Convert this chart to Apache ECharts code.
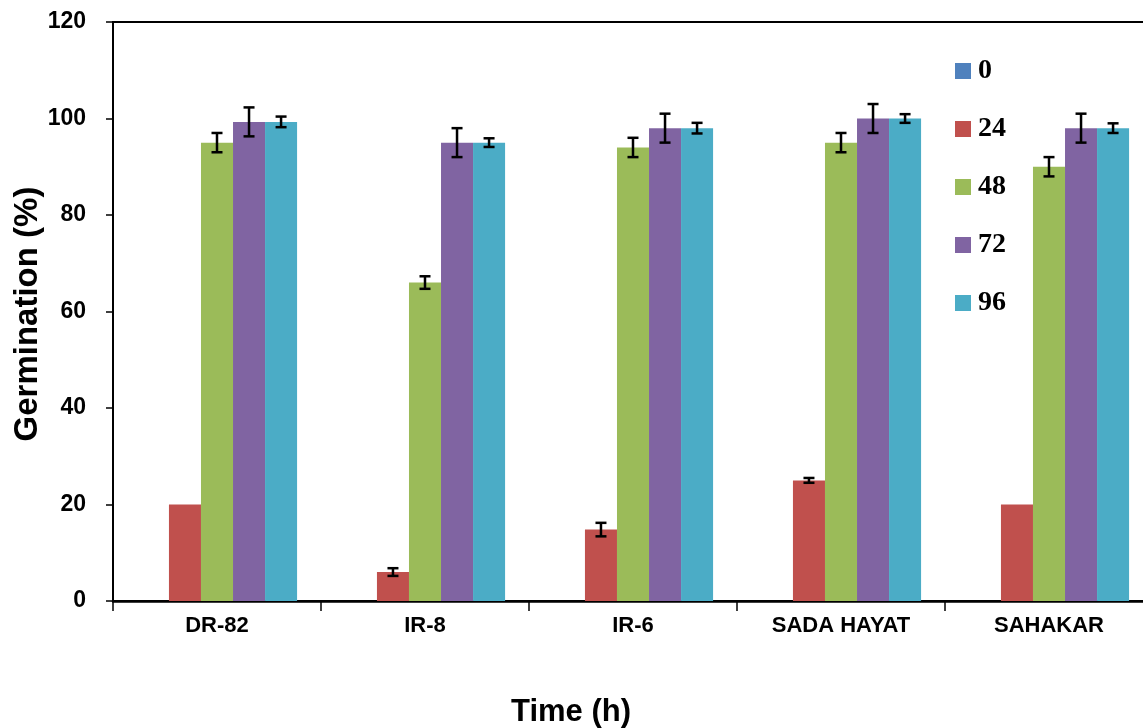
<!DOCTYPE html>
<html>
<head>
<meta charset="utf-8">
<script src="https://cdn.jsdelivr.net/npm/echarts@6/dist/echarts.min.js"></script>
<style>
  html, body { margin: 0; padding: 0; background: #fff; }
  #chart { width: 1143px; height: 728px; }
</style>
</head>
<body>
<div id="chart"></div>
<script>
// Rice cultivars on the category axis
const categories = ['DR-82', 'IR-8', 'IR-6', 'SADA HAYAT', 'SAHAKAR'];
// Germination time points (h), one series each
const seriesNames = ['0', '24', '48', '72', '96'];
// Mean germination (%) per cultivar at each time point
const values0 = [0, 0, 0, 0, 0];
const values24 = [20, 6, 14.8, 25, 20];
const values48 = [95, 66, 94, 95, 90];
const values72 = [99.3, 95, 98, 100, 98];
const values96 = [99.3, 95, 98, 100, 98];
// Standard error per cultivar (null = no error bar drawn)
const err0 = [null, null, null, null, null];
const err24 = [null, 0.8, 1.4, 0.5, null];
const err48 = [2, 1.3, 2, 2, 2];
const err72 = [3, 3, 3, 3, 3];
const err96 = [1.1, 0.9, 1.1, 0.9, 1];
const yTicks = [0, 20, 40, 60, 80, 100, 120];

const colors = ['#4F81BD', '#C0504D', '#9BBB59', '#8064A2', '#4BACC6'];
const allValues = [values0, values24, values48, values72, values96];
const allErrors = [err0, err24, err48, err72, err96];

const BAR_FRAC = 0.154; // bar width as a share of the category band

const chart = echarts.init(document.getElementById('chart'), null, { renderer: 'canvas' });

const series = [];
allValues.forEach((vals, i) => {
  series.push({
    name: seriesNames[i],
    type: 'bar',
    data: vals,
    barWidth: (BAR_FRAC * 100) + '%',
    barGap: '0%',
    itemStyle: { color: colors[i] },
    z: 2
  });
});

allValues.forEach((vals, i) => {
  const errs = allErrors[i];
  const data = [];
  vals.forEach((v, k) => {
    if (errs[k] != null) data.push([k, v, errs[k]]);
  });
  series.push({
    type: 'custom',
    name: 'err' + i,
    data: data,
    z: 5,
    silent: true,
    renderItem: function (params, api) {
      const cat = api.value(0);
      const val = api.value(1);
      const e = api.value(2);
      const band = api.size([1, 0])[0];
      const off = (i - 2) * BAR_FRAC * band;
      const top = api.coord([cat, val + e]);
      const bot = api.coord([cat, val - e]);
      const x = top[0] + off;
      const cap = 5.5;
      const style = { stroke: '#000', lineWidth: 2.5 };
      return {
        type: 'group',
        children: [
          { type: 'line', shape: { x1: x, y1: top[1], x2: x, y2: bot[1] }, style: style },
          { type: 'line', shape: { x1: x - cap, y1: top[1], x2: x + cap, y2: top[1] }, style: style },
          { type: 'line', shape: { x1: x - cap, y1: bot[1], x2: x + cap, y2: bot[1] }, style: style }
        ]
      };
    }
  });
});

const option = {
  animation: false,
  backgroundColor: '#fff',
  grid: {
    left: 113, width: 1040, top: 22, height: 579,
    outerBoundsMode: 'none', containLabel: false,
    show: true, borderColor: '#000', borderWidth: 2, backgroundColor: 'transparent'
  },
  graphic: [
    {
      type: 'text',
      x: 571, y: 712,
      style: {
        text: 'Time (h)',
        fontFamily: 'Liberation Sans', fontWeight: 'bold', fontSize: 31, fill: '#000',
        textAlign: 'center', textVerticalAlign: 'middle'
      }
    },
    {
      type: 'text',
      x: 28, y: 314,
      rotation: Math.PI / 2,
      style: {
        text: 'Germination (%)',
        fontFamily: 'Liberation Sans', fontWeight: 'bold', fontSize: 33, fill: '#000',
        textAlign: 'center', textVerticalAlign: 'middle'
      }
    }
  ],
  legend: {
    data: seriesNames,
    orient: 'vertical',
    left: 950,
    top: 52,
    itemWidth: 16,
    itemHeight: 16,
    itemGap: 30,
    icon: 'rect',
    textStyle: {
      fontFamily: 'Liberation Serif',
      fontWeight: 'bold',
      fontSize: 28,
      color: '#000',
      padding: [0, 0, 0, 2]
    }
  },
  xAxis: {
    type: 'category',
    data: categories,
    axisLine: { lineStyle: { color: '#000', width: 2.5 } },
    axisTick: { show: true, alignWithLabel: false, length: 10, lineStyle: { color: '#000', width: 1.5 } },
    axisLabel: { fontFamily: 'Liberation Sans', fontWeight: 'bold', fontSize: 22, color: '#000', margin: 14 },
    splitLine: { show: false }
  },
  yAxis: {
    type: 'value',
    min: 0,
    max: 120,
    interval: 20,
    axisLine: { show: true, lineStyle: { color: '#000', width: 2 } },
    axisTick: { show: true, length: 7, lineStyle: { color: '#000', width: 1.5 } },
    axisLabel: {
      fontFamily: 'Liberation Sans', fontWeight: 'bold', fontSize: 23, color: '#000', margin: 27,
      formatter: function (v) { return yTicks.indexOf(v) >= 0 ? String(v) : ''; }
    },
    splitLine: { show: false }
  },
  series: series
};

chart.setOption(option);
</script>
</body>
</html>
